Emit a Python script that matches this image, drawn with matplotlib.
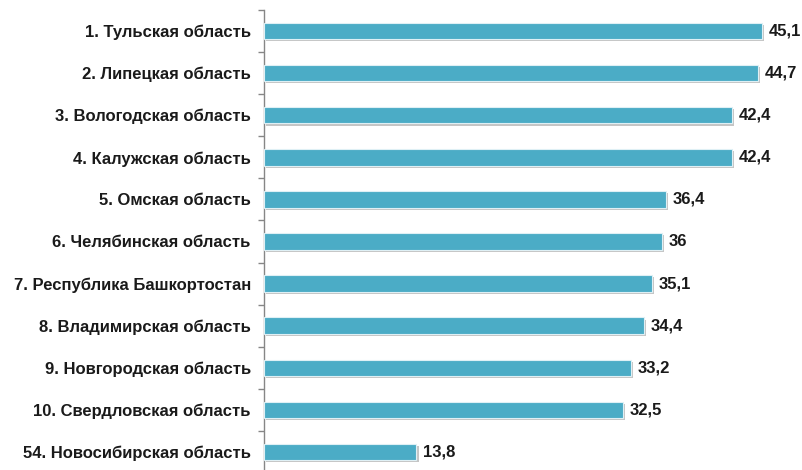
import numpy as np
import matplotlib

matplotlib.use('Agg')
import matplotlib.pyplot as plt
import matplotlib.patheffects as pe

# Data
regions = [
    "1. Тульская область",
    "2. Липецкая область",
    "3. Вологодская область",
    "4. Калужская область",
    "5. Омская область",
    "6. Челябинская область",
    "7. Республика Башкортостан",
    "8. Владимирская область",
    "9. Новгородская область",
    "10. Свердловская область",
    "54. Новосибирская область",
]
values = [45.1, 44.7, 42.4, 42.4, 36.4, 36.0, 35.1, 34.4, 33.2, 32.5, 13.8]
value_labels = ["45,1", "44,7", "42,4", "42,4", "36,4", "36", "35,1", "34,4", "33,2", "32,5", "13,8"]

plt.rcParams['font.family'] = ['Liberation Sans', 'DejaVu Sans']

fig = plt.figure(figsize=(8.02, 4.70), dpi=100)
ax = fig.add_axes([264 / 802, 1 - 473 / 470, 1 - 264 / 802, 463 / 470])

y = np.arange(len(regions))
bars = ax.barh(y, values, height=0.39, color='#4BACC6', edgecolor='#dff0f5',
               linewidth=0.8, zorder=3)
for b in bars:
    b.set_path_effects([pe.SimplePatchShadow(offset=(1.5, -1.5), shadow_rgbFace='#808080', alpha=0.45),
                        pe.Normal()])

txt_fx = [pe.withSimplePatchShadow(offset=(0.6, -0.6), shadow_rgbFace='#999999', alpha=0.35)]
for yi, v, lab in zip(y, values, value_labels):
    ax.text(v + 0.6, yi, lab, va='center', ha='left', fontsize=12,
            fontweight='bold', color='#1a1a1a')

ax.set_ylim(len(regions) - 0.5, -0.5)
ax.set_xlim(0, 48.7)

ax.set_yticks(y)
ax.set_yticklabels(regions, fontsize=12, fontweight='bold', color='#1a1a1a')
ax.set_yticks(np.arange(len(regions) + 1) - 0.5, minor=True)
ax.tick_params(axis='y', which='major', length=0, pad=9.5)
ax.tick_params(axis='y', which='minor', length=4, color='#868686', width=1, direction='out')
ax.set_xticks([])

for s in ['top', 'right', 'bottom']:
    ax.spines[s].set_visible(False)
ax.spines['left'].set_color('#868686')
ax.spines['left'].set_linewidth(1)

fig.savefig('out.png', dpi=100)
